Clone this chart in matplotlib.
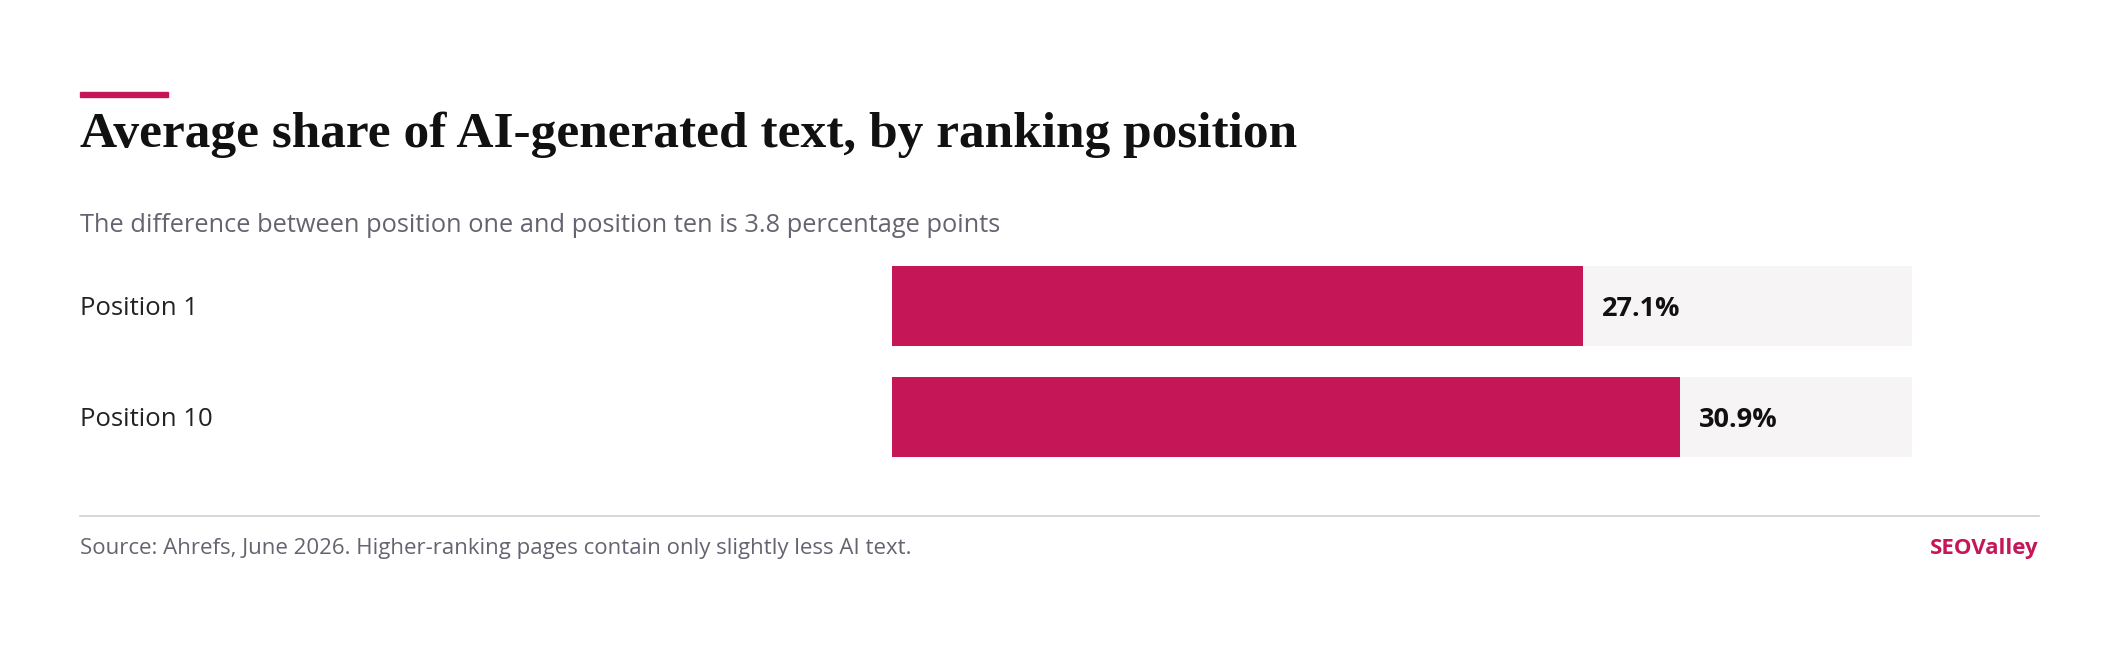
import matplotlib
matplotlib.use("Agg")
import matplotlib.pyplot as plt
from matplotlib.patches import Rectangle
from matplotlib.lines import Line2D

categories = ["Position 1", "Position 10"]
values = [27.1, 30.9]
axis_max = 40

ACCENT = "#c51758"
TRACK = "#f6f4f5"
TEXT = "#222222"
MUTED = "#666370"

W, H = 1568, 478  # layout coordinates (scaled to 2120x646 output)


def fx(x):
    return x / W


def fy(y):
    return 1 - y / H


fig = plt.figure(figsize=(21.2, 6.46), dpi=100)
fig.patch.set_facecolor("white")

fig.add_artist(Rectangle((fx(59), fy(72)), fx(124) - fx(59), fy(68) - fy(72),
                         color=ACCENT, transform=fig.transFigure))
fig.text(fx(59), fy(100), "Average share of AI-generated text, by ranking position",
         family="Liberation Serif", weight="bold", fontsize=37, color="#111111", va="center")
fig.text(fx(59), fy(167), "The difference between position one and position ten is 3.8 percentage points",
         family="Open Sans", fontsize=18.3, color=MUTED, va="center")

ax = fig.add_axes([fx(660), fy(338), fx(1414) - fx(660), fy(197) - fy(338)])
ax.barh(range(len(values)), [axis_max] * len(values), height=0.715, color=TRACK)
ax.barh(range(len(values)), values, height=0.715, color=ACCENT)
ax.set_xlim(0, axis_max)
ax.set_ylim(1.3575, -0.3575)
ax.axis("off")
for i, (c, v) in enumerate(zip(categories, values)):
    ax.text(v + 0.75, i + 0.03, f"{v}%", va="center", ha="left", family="Open Sans",
            weight="bold", fontsize=19.5, color="#111111")
    fig.text(fx(59), fy(228 + i * 82.5), c, va="center", family="Open Sans",
             fontsize=18.5, color=TEXT)

fig.add_artist(Line2D([fx(59), fx(1508)], [fy(382), fy(382)], color="#d0d0d0", lw=1.2,
                      transform=fig.transFigure))
fig.text(fx(59), fy(406), "Source: Ahrefs, June 2026. Higher-ranking pages contain only slightly less AI text.",
         family="Open Sans", fontsize=16, color=MUTED, va="center")
fig.text(fx(1508), fy(406), "SEOValley", family="Open Sans", weight="bold", fontsize=16,
         color=ACCENT, va="center", ha="right")

fig.savefig("out.png", dpi=100)
